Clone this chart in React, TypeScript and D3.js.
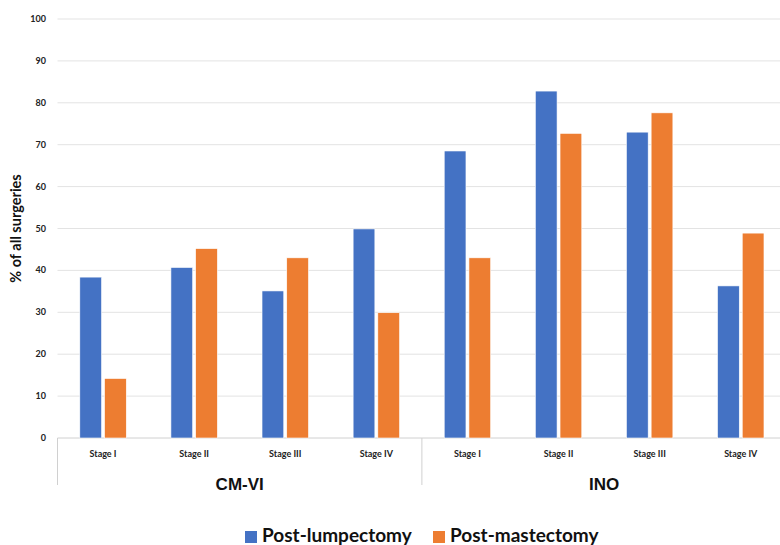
import React from "react";
import * as d3 from "d3";

const groups = ["CM-VI", "INO"];
const stages = ["Stage I", "Stage II", "Stage III", "Stage IV"];
const series = ["Post-lumpectomy", "Post-mastectomy"];
const colors = ["#4472C4", "#ED7D31"];
const lumpectomy = [38.4, 40.7, 35.1, 49.9, 68.5, 82.8, 73.0, 36.3];
const mastectomy = [14.2, 45.2, 43.0, 29.9, 43.0, 72.7, 77.6, 48.9];
const yTicks = [0, 10, 20, 30, 40, 50, 60, 70, 80, 90, 100];

const W = 780;
const H = 545;
const left = 57.5;
const slotW = 91.1;
const top = 19;
const bottom = 438;

export default function App() {
  const slots = groups.flatMap((g) => stages.map((s) => `${g}|${s}`));
  const x0 = d3
    .scaleBand<string>()
    .domain(slots)
    .range([left, left + slotW * slots.length])
    .paddingInner(0.49)
    .paddingOuter(0.245);
  const x1 = d3.scaleBand<string>().domain(series).range([0, x0.bandwidth()]).paddingInner(0.12);
  const y = d3.scaleLinear().domain([0, 100]).range([bottom, top]);
  const values = [lumpectomy, mastectomy];
  const slotCenter = (k: string) => (x0(k) as number) + x0.bandwidth() / 2;
  const font = "Lato, 'Open Sans', sans-serif";

  return (
    <svg width={W} height={H} style={{ position: "absolute", left: 0, top: 0, background: "#fff" }}>
      {yTicks.map((t) => (
        <g key={t}>
          <line x1={left} x2={W} y1={y(t)} y2={y(t)} stroke={t === 0 ? "#d0d0d0" : "#e3e3e3"} strokeWidth={1} />
          <text x={46} y={y(t) + 3} textAnchor="end" fontFamily={font} fontWeight={700} fontSize={9} fill="#222">
            {t}
          </text>
        </g>
      ))}
      <text
        transform={`translate(21,${(top + bottom) / 2}) rotate(-90)`}
        textAnchor="middle"
        fontFamily={font}
        fontWeight={700}
        fontSize={14.5}
        fill="#111"
      >
        % of all surgeries
      </text>
      {slots.map((k, i) =>
        series.map((s, j) => (
          <rect
            key={k + s}
            x={(x0(k) as number) + (x1(s) as number)}
            y={y(values[j][i])}
            width={x1.bandwidth()}
            height={bottom - y(values[j][i])}
            fill={colors[j]}
            stroke="#fff"
            strokeWidth={0.6}
          />
        ))
      )}
      {slots.map((k) => (
        <text
          key={k}
          x={slotCenter(k)}
          y={457}
          textAnchor="middle"
          fontFamily={font}
          fontWeight={700}
          fontSize={9}
          fill="#222"
        >
          {k.split("|")[1]}
        </text>
      ))}
      {[0, 4].map((i) => (
        <line
          key={i}
          x1={left + slotW * i}
          x2={left + slotW * i}
          y1={bottom}
          y2={485}
          stroke="#d0d0d0"
          strokeWidth={1}
        />
      ))}
      {groups.map((g, gi) => (
        <text
          key={g}
          x={(slotCenter(slots[gi * 4]) + slotCenter(slots[gi * 4 + 3])) / 2}
          y={490}
          textAnchor="middle"
          fontFamily="'Liberation Sans', Arial, sans-serif"
          fontWeight={700}
          fontSize={17}
          fill="#111"
        >
          {g}
        </text>
      ))}
      {series.map((s, j) => {
        const lx = [245, 433][j];
        return (
          <g key={s}>
            <rect x={lx} y={531} width={12} height={12} fill={colors[j]} />
            <text x={lx + 17} y={542} fontFamily={font} fontWeight={700} fontSize={19} fill="#111">
              {s}
            </text>
          </g>
        );
      })}
    </svg>
  );
}
